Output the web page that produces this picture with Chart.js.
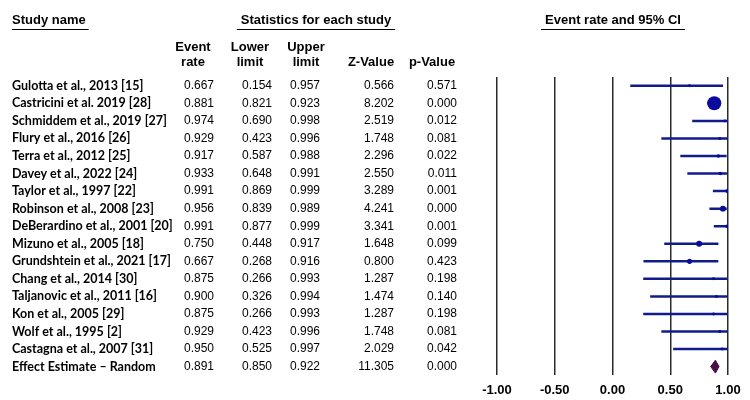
<!DOCTYPE html>
<html>
<head>
<meta charset="utf-8">
<script src="https://cdn.jsdelivr.net/npm/chart.js@4"></script>
<style>
  body { margin: 0; background: #fff; }
  #wrap { width: 750px; height: 400px; }
</style>
</head>
<body>
<div id="wrap"><canvas id="forest" width="750" height="400"></canvas></div>
<script>
const studies = [
  "Gulotta et al., 2013 [15]",
  "Castricini et al. 2019 [28]",
  "Schmiddem et al., 2019 [27]",
  "Flury et al., 2016 [26]",
  "Terra et al., 2012 [25]",
  "Davey et al., 2022 [24]",
  "Taylor et al., 1997 [22]",
  "Robinson et al., 2008 [23]",
  "DeBerardino et al., 2001 [20]",
  "Mizuno et al., 2005 [18]",
  "Grundshtein et al., 2021 [17]",
  "Chang et al., 2014 [30]",
  "Taljanovic et al., 2011 [16]",
  "Kon et al., 2005 [29]",
  "Wolf et al., 1995 [2]",
  "Castagna et al., 2007 [31]"
];
const eventRate = [0.667, 0.881, 0.974, 0.929, 0.917, 0.933, 0.991, 0.956, 0.991, 0.750, 0.667, 0.875, 0.900, 0.875, 0.929, 0.950];
const lowerLimit = [0.154, 0.821, 0.690, 0.423, 0.587, 0.648, 0.869, 0.839, 0.877, 0.448, 0.268, 0.266, 0.326, 0.266, 0.423, 0.525];
const upperLimit = [0.957, 0.923, 0.998, 0.996, 0.988, 0.991, 0.999, 0.989, 0.999, 0.917, 0.916, 0.993, 0.994, 0.993, 0.996, 0.997];
const zValue = [0.566, 8.202, 2.519, 1.748, 2.296, 2.550, 3.289, 4.241, 3.341, 1.648, 0.800, 1.287, 1.474, 1.287, 1.748, 2.029];
const pValue = [0.571, 0.000, 0.012, 0.081, 0.022, 0.011, 0.001, 0.000, 0.001, 0.099, 0.423, 0.198, 0.140, 0.198, 0.081, 0.042];
// relative weights (%), guessed from marker size
const weights = [2, 45, 2, 2, 3, 3, 3, 8, 3, 8, 6, 2, 2, 2, 2, 2];

const pooledLabel = "Effect Estimate \u2013 Random";
const pooled = { rate: 0.891, lower: 0.850, upper: 0.922, z: 11.305, p: 0.000 };

const xTicks = [-1, -0.5, 0, 0.5, 1];

const pooledRow = studies.length;

// CI lines, broken by empty points
const ciPoints = [];
studies.forEach((s, i) => {
  ciPoints.push({ x: lowerLimit[i], y: i });
  ciPoints.push({ x: upperLimit[i], y: i });
  ciPoints.push({ x: upperLimit[i], y: null });
});

const markerPoints = eventRate.map((v, i) => ({ x: v, y: i }));

const dh = 0.37;
const diamondPoints = [
  { x: pooled.lower, y: pooledRow },
  { x: pooled.rate, y: pooledRow - dh },
  { x: pooled.upper, y: pooledRow },
  { x: pooled.rate, y: pooledRow + dh },
  { x: pooled.lower, y: pooledRow }
];

const numFont = '12px "Liberation Sans", Arial, sans-serif';
const headFont = 'bold 13px "Liberation Sans", Arial, sans-serif';
const nameFont = 'bold 12.5px Lato, "Open Sans", sans-serif';
const colRight = [214, 272, 320, 394, 457];

const tablePlugin = {
  id: "tablePlugin",
  afterDraw(chart) {
    const ctx = chart.ctx;
    const yScale = chart.scales.y;
    ctx.save();
    ctx.fillStyle = "#000";
    ctx.strokeStyle = "#000";
    ctx.lineWidth = 1;
    ctx.textBaseline = "middle";

    // top headers with underline
    ctx.font = headFont;
    const titles = [
      { text: "Study name", x: 12, align: "left" },
      { text: "Statistics for each study", x: 316, align: "center" },
      { text: "Event rate and 95% CI", x: 613, align: "center" }
    ];
    titles.forEach((t) => {
      ctx.textAlign = t.align;
      ctx.fillText(t.text, t.x, 20);
      const w = ctx.measureText(t.text).width;
      const x0 = t.align === "left" ? t.x : t.x - w / 2 - 4;
      const x1 = t.align === "left" ? t.x + w + 3 : t.x + w / 2 + 4;
      ctx.beginPath();
      ctx.moveTo(x0, 29.5);
      ctx.lineTo(x1, 29.5);
      ctx.stroke();
    });

    // column headers
    ctx.textAlign = "center";
    const heads = [
      ["Event", "rate", 193],
      ["Lower", "limit", 250],
      ["Upper", "limit", 306],
      ["", "Z-Value", 371],
      ["", "p-Value", 432]
    ];
    heads.forEach((h) => {
      if (h[0]) ctx.fillText(h[0], h[2], 47);
      ctx.fillText(h[1], h[2], 62);
    });

    // rows
    const drawRow = (label, vals, i) => {
      const y = yScale.getPixelForValue(i);
      ctx.font = nameFont;
      ctx.textAlign = "left";
      ctx.fillText(label, 12, y);
      ctx.font = numFont;
      ctx.textAlign = "right";
      vals.forEach((v, c) => ctx.fillText(v.toFixed(3), colRight[c], y));
    };
    studies.forEach((s, i) => {
      drawRow(s, [eventRate[i], lowerLimit[i], upperLimit[i], zValue[i], pValue[i]], i);
    });
    drawRow(pooledLabel, [pooled.rate, pooled.lower, pooled.upper, pooled.z, pooled.p], pooledRow);
    ctx.restore();
  }
};

const config = {
  type: "scatter",
  data: {
    datasets: [
      {
        label: "CI",
        data: ciPoints,
        showLine: true,
        spanGaps: false,
        borderColor: "#101c8c",
        borderWidth: 2.5,
        pointRadius: 0,
        order: 2
      },
      {
        label: "Event rate",
        data: markerPoints,
        backgroundColor: "#0a0a9c",
        borderColor: "#0a0a9c",
        borderWidth: 0,
        pointRadius: (c) => Math.sqrt(weights[c.dataIndex]) * 1.05,
        order: 1
      },
      {
        label: "Pooled",
        data: diamondPoints,
        showLine: true,
        fill: "shape",
        backgroundColor: "#4a0d45",
        borderColor: "#4a0d45",
        borderWidth: 1,
        pointRadius: 0,
        order: 0
      }
    ]
  },
  options: {
    responsive: false,
    animation: false,
    layout: {
      padding: { left: 497, right: 22, top: 77, bottom: -5 }
    },
    plugins: {
      legend: { display: false },
      tooltip: { enabled: false }
    },
    scales: {
      x: {
        type: "linear",
        min: -1,
        max: 1,
        afterBuildTicks: (axis) => {
          axis.ticks = xTicks.map((v) => ({ value: v }));
        },
        grid: {
          color: "#2a2a2a",
          lineWidth: 1.5,
          drawTicks: false
        },
        border: { display: false },
        ticks: {
          padding: 7,
          color: "#000",
          font: { family: '"Liberation Sans", Arial, sans-serif', size: 13, weight: "bold" },
          callback: (v) => v.toFixed(2)
        }
      },
      y: {
        type: "linear",
        display: false,
        reverse: true,
        min: -0.5,
        max: studies.length + 0.5
      }
    }
  },
  plugins: [tablePlugin]
};

new Chart(document.getElementById("forest"), config);
</script>
</body>
</html>
